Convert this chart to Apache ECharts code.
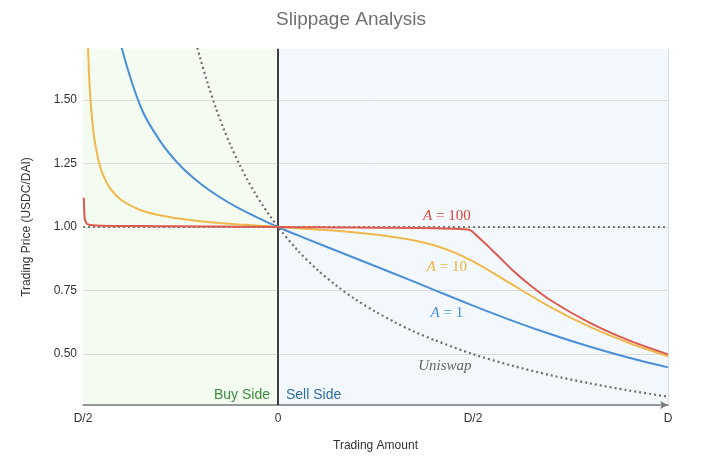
<!DOCTYPE html>
<html>
<head>
<meta charset="utf-8">
<script src="https://cdn.jsdelivr.net/npm/echarts@6/dist/echarts.min.js"></script>
<style>
html,body{margin:0;padding:0;background:#fff;}
#chart{width:702px;height:464px;}
</style>
</head>
<body>
<div id="chart"></div>
<script>
// ---- data ----
const titleText = 'Slippage Analysis';
const xTickValues = [-0.5, 0, 0.5, 1];
const xTickLabels = ['D/2', '0', 'D/2', 'D'];
const yTickValues = [0.5, 0.75, 1.0, 1.25, 1.5];

// Uniswap (constant product)
const uniAmount = [-0.21,-0.2,-0.18,-0.16,-0.14,-0.12,-0.1,-0.08,-0.06,-0.04,-0.02,0,0.05,0.1,0.15,0.2,0.25,0.3,0.35,0.4,0.5,0.6,0.7,0.8,0.9,1.0];
const uniPrice  = [1.724,1.667,1.563,1.471,1.389,1.316,1.25,1.19,1.136,1.087,1.042,1.0,0.909,0.833,0.769,0.714,0.667,0.625,0.588,0.556,0.5,0.455,0.417,0.385,0.357,0.333];

// A = 1
const a1Amount = [-0.42,-0.4,-0.35,-0.3,-0.25,-0.2,-0.15,-0.1,-0.05,0,0.05,0.1,0.2,0.3,0.4,0.5,0.6,0.7,0.8,0.9,1.0];
const a1Price  = [1.858,1.70,1.465,1.333,1.24,1.172,1.118,1.073,1.035,1.0,0.968,0.937,0.876,0.815,0.753,0.691,0.632,0.578,0.529,0.486,0.448];

// A = 10
const a10Amount = [-0.49,-0.485,-0.48,-0.475,-0.47,-0.46,-0.45,-0.43,-0.4,-0.35,-0.3,-0.25,-0.2,-0.15,-0.1,-0.05,0,0.1,0.2,0.3,0.35,0.4,0.45,0.5,0.55,0.6,0.7,0.8,0.9,1.0];
const a10Price  = [1.854,1.617,1.485,1.399,1.339,1.26,1.21,1.151,1.104,1.065,1.045,1.032,1.023,1.016,1.01,1.005,1.0,0.99,0.978,0.96,0.947,0.928,0.901,0.865,0.821,0.774,0.684,0.607,0.544,0.492];

// A = 100
const a100Amount = [-0.498,-0.496,-0.494,-0.49,-0.48,-0.45,-0.4,-0.3,-0.2,-0.1,0,0.1,0.2,0.3,0.4,0.45,0.48,0.495,0.51,0.53,0.56,0.6,0.65,0.7,0.8,0.9,1.0];
const a100Price  = [1.115,1.04,1.025,1.013,1.008,1.005,1.004,1.003,1.002,1.001,1.0,0.999,0.998,0.997,0.995,0.993,0.991,0.986,0.966,0.937,0.893,0.832,0.767,0.711,0.623,0.554,0.499];

const seriesNames = ['Uniswap', 'A = 1', 'A = 10', 'A = 100'];
const sideLabels = ['Buy Side', 'Sell Side'];

// ---- build ----
const zip = (xs, ys) => xs.map((x, i) => [x, ys[i]]);
const FONT = '"Liberation Sans", Arial, Helvetica, sans-serif';
const SERIF = '"Liberation Serif", "Times New Roman", serif';

function curveLabel(coord, text, color) {
  return {
    symbol: 'circle', symbolSize: 0, silent: true,
    data: [{ coord: coord, value: 0 }],
    label: {
      show: true, position: 'inside', formatter: text,
      color: color, fontFamily: SERIF, fontSize: 15,
      rich: { i: { fontStyle: 'italic', fontFamily: SERIF, fontSize: 15, color: color } }
    }
  };
}

const chart = echarts.init(document.getElementById('chart'), null, { renderer: 'canvas' });
chart.setOption({
  animation: false,
  backgroundColor: '#ffffff',
  title: {
    text: titleText, left: 'center', top: 5,
    textStyle: { color: '#707070', fontSize: 19, fontWeight: 'normal', fontFamily: FONT }
  },
  grid: { left: 83, right: 34, top: 49, bottom: 59 },
  xAxis: {
    type: 'value', min: -0.5, max: 1, interval: 0.5,
    name: 'Trading Amount', nameLocation: 'middle', nameGap: 35,
    nameTextStyle: { color: '#333', fontSize: 12, fontFamily: FONT },
    axisLine: { show: true, symbol: ['none', 'arrow'], symbolSize: [6, 8], lineStyle: { color: '#777', width: 1.5 } },
    axisTick: { show: false },
    axisLabel: {
      color: '#333', fontSize: 12, fontFamily: FONT, margin: 8,
      formatter: v => { const i = xTickValues.findIndex(t => Math.abs(t - v) < 1e-9); return i >= 0 ? xTickLabels[i] : ''; }
    },
    splitLine: { show: true, lineStyle: { color: '#dcdcdc', width: 1 } }
  },
  yAxis: {
    type: 'value', min: 0.3, max: 1.7,
    name: 'Trading Price (USDC/DAI)', nameLocation: 'middle', nameGap: 50,
    nameTextStyle: { color: '#333', fontSize: 12, fontFamily: FONT },
    axisLine: { show: true, lineStyle: { color: '#777', width: 1.5 } },
    axisTick: { show: false, customValues: yTickValues },
    axisLabel: { color: '#333', fontSize: 12, fontFamily: FONT, margin: 6, customValues: yTickValues, formatter: v => v.toFixed(2) },
    splitLine: { show: false }
  },
  series: [
    {
      type: 'line', data: [], z: 0, silent: true,
      markArea: {
        silent: true, z: 0,
        data: [
          [{ xAxis: -0.5, name: sideLabels[0], itemStyle: { color: '#f4fbf0' },
             label: { show: true, position: 'insideBottomRight', distance: 3, padding: [0, 5, 0, 0], color: '#3b8a3b', fontSize: 14, fontFamily: FONT } },
           { xAxis: 0 }],
          [{ xAxis: 0, name: sideLabels[1], itemStyle: { color: '#f3f8fc' },
             label: { show: true, position: 'insideBottomLeft', distance: 3, padding: [0, 0, 0, 5], color: '#2f6ea3', fontSize: 14, fontFamily: FONT } },
           { xAxis: 1 }]
        ]
      }
    },
    {
      type: 'line', data: [], z: 1, silent: true,
      markLine: {
        silent: true, z: 1, symbol: ['none', 'none'], label: { show: false },
        lineStyle: { color: '#dcdcdc', type: 'solid', width: 1 },
        data: yTickValues.map(v => ({ yAxis: v }))
      }
    },
    {
      type: 'line', data: [], z: 2, silent: true,
      markLine: {
        silent: true, z: 2, symbol: ['none', 'none'], label: { show: false },
        data: [
          { xAxis: 0, lineStyle: { color: '#222', type: 'solid', width: 1.5 } },
          { yAxis: 1.0, lineStyle: { color: '#7a7a7a', type: [2, 3], width: 2 } }
        ]
      }
    },
    {
      name: seriesNames[0], type: 'line', z: 3, showSymbol: false, smooth: 0.3,
      data: zip(uniAmount, uniPrice),
      lineStyle: { color: '#6f6f6f', width: 2.2, type: [2, 3] },
      itemStyle: { color: '#6f6f6f' },
      markPoint: curveLabel([0.428, 0.455], '{i|Uniswap}', '#666')
    },
    {
      name: seriesNames[1], type: 'line', z: 4, showSymbol: false, smooth: 0.3,
      data: zip(a1Amount, a1Price),
      lineStyle: { color: '#4a8fd8', width: 2 },
      itemStyle: { color: '#4a8fd8' },
      markPoint: curveLabel([0.433, 0.66], '{i|A} = 1', '#4a8fd8')
    },
    {
      name: seriesNames[2], type: 'line', z: 5, showSymbol: false, smooth: 0.3,
      data: zip(a10Amount, a10Price),
      lineStyle: { color: '#f0b84c', width: 2 },
      itemStyle: { color: '#f0b84c' },
      markPoint: curveLabel([0.433, 0.843], '{i|A} = 10', '#eeb040')
    },
    {
      name: seriesNames[3], type: 'line', z: 6, showSymbol: false, smooth: 0.2,
      data: zip(a100Amount, a100Price),
      lineStyle: { color: '#dd5a4e', width: 2 },
      itemStyle: { color: '#dd5a4e' },
      markPoint: curveLabel([0.433, 1.043], '{i|A} = 100', '#d9453b')
    }
  ]
});
</script>
</body>
</html>
